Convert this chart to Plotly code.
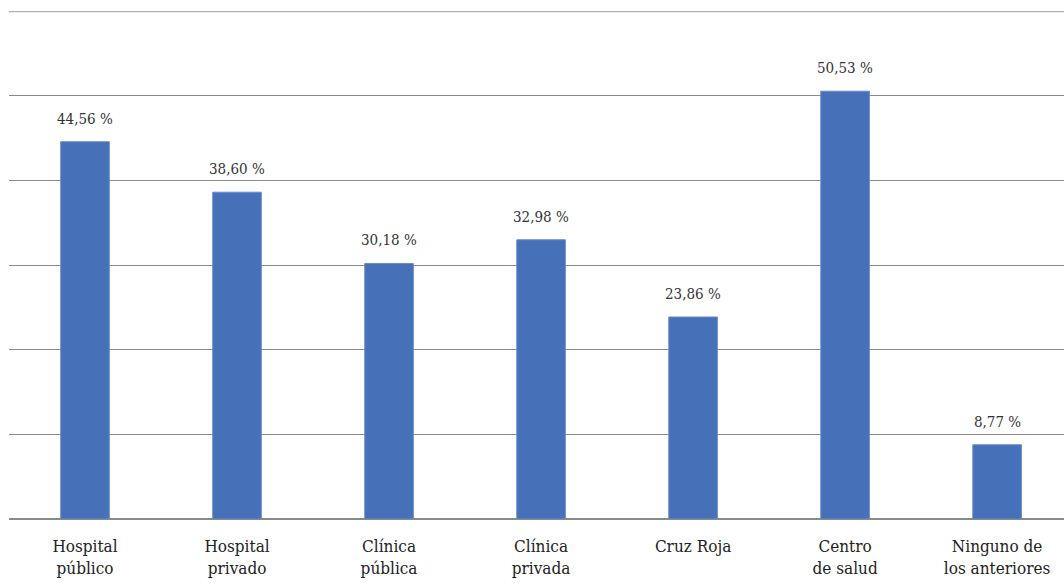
import plotly.graph_objects as go

# Centros de atención y porcentaje de uso
categorias = ["Hospital<br>público", "Hospital<br>privado", "Clínica<br>pública",
              "Clínica<br>privada", "Cruz Roja", "Centro<br>de salud",
              "Ninguno de<br>los anteriores"]
porcentajes = [44.56, 38.60, 30.18, 32.98, 23.86, 50.53, 8.77]
marcas_y = [0, 10, 20, 30, 40, 50, 60]

etiquetas = [f"{v:.2f}".replace(".", ",") + " %" for v in porcentajes]
FUENTE = "DejaVu Serif Condensed, DejaVu Serif"

fig = go.Figure()
fig.add_trace(go.Bar(
    x=list(range(len(categorias))),
    y=porcentajes,
    width=0.32,
    marker=dict(color="#4670B8", line=dict(color="#6A8CCB", width=1)),
    hoverinfo="skip",
))

for i, (v, t) in enumerate(zip(porcentajes, etiquetas)):
    fig.add_annotation(x=i, y=v, text=t, showarrow=False, yanchor="bottom",
                       yshift=12, font=dict(family=FUENTE, size=15, color="#333333"))

fig.update_layout(
    width=1064, height=586,
    margin=dict(l=9, r=0, t=11, b=67),
    plot_bgcolor="white", paper_bgcolor="white",
    showlegend=False,
    font=dict(family=FUENTE, color="#222222"),
    xaxis=dict(
        tickmode="array", tickvals=list(range(len(categorias))), ticktext=categorias,
        range=[-0.5, 6.44], showgrid=False, zeroline=False, showline=False,
        ticks="", tickfont=dict(family=FUENTE, size=17, color="#222222"),
        ticklabelstandoff=15,
    ),
    yaxis=dict(
        range=[0, 60], tickvals=marcas_y, showticklabels=False,
        showgrid=True, gridcolor="#8a8a8a", gridwidth=1,
        zeroline=True, zerolinecolor="#8a8a8a", zerolinewidth=1.5,
        showline=False,
    ),
)

# Línea superior del marco
fig.add_shape(type="line", xref="paper", yref="y", x0=0, x1=1, y0=60, y1=60,
              line=dict(color="#b0b0b0", width=2.5))

fig.write_html("out.html")
